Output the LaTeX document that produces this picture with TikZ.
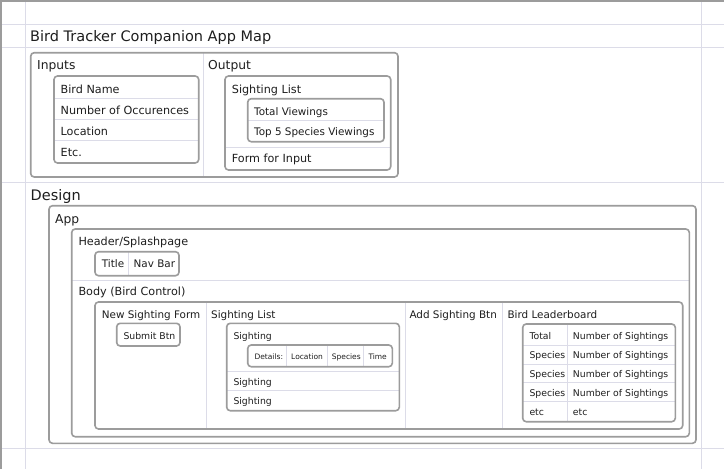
\documentclass[tikz,border=0pt]{standalone}
\usepackage{fontspec}
\setmainfont{DejaVu Sans}
\definecolor{grid}{HTML}{DCDCE8}
\definecolor{boxc}{HTML}{9C9C9C}
\definecolor{txt}{HTML}{1E1E1E}
\tikzset{
  gridline/.style={draw=grid, line width=1pt},
  border/.style={draw=boxc, line width=1.5pt},
  box/.style={draw=boxc, line width=1.6pt, rounded corners=3.5pt},
  divider/.style={draw=grid, line width=0.9pt},
  lbl/.style={anchor=base west, inner sep=0pt, text=txt},
  tA/.style={lbl, font=\fontsize{14.5}{16}\selectfont},
  tB/.style={lbl, font=\fontsize{12.3}{14}\selectfont},
  tC/.style={lbl, font=\fontsize{11.2}{13}\selectfont},
  tD/.style={lbl, font=\fontsize{10.4}{12}\selectfont},
  tE/.style={lbl, font=\fontsize{9.3}{11}\selectfont},
  tF/.style={lbl, font=\fontsize{7.5}{9}\selectfont},
}
\begin{document}
\begin{tikzpicture}[x=1pt,y=-1pt]
\useasboundingbox (0,0) rectangle (724,469);
\fill[white] (0,0) rectangle (724,469);
% page grid
\draw[gridline] (0,24) -- (724,24);
\draw[gridline] (0,47) -- (724,47);
\draw[gridline] (0,182.5) -- (724,182.5);
\draw[gridline] (0,448) -- (724,448);
\draw[gridline] (25,0) -- (25,469);
\draw[gridline] (701,0) -- (701,469);
\draw[border] (0.75,0) -- (0.75,469);
\draw[border] (0,0.75) -- (724,0.75);

% ---------- Map ----------
\node[tA] (title) at (30,41) {Bird Tracker Companion App Map};
\draw[divider] (203,52.7) -- (203,177);
\draw[box] (30.7,52.7) rectangle (398,177);
\node[tB] (inputs) at (37,69.3) {Inputs};
\node[tB] (output) at (208,69.3) {Output};
% inputs list
\draw[divider] (54,98.3) -- (198.7,98.3);
\draw[divider] (54,119.3) -- (198.7,119.3);
\draw[divider] (54,140) -- (198.7,140);
\draw[box] (54,76) rectangle (198.7,163);
\node[tC] (in1) at (60.5,93.3) {Bird Name};
\node[tC] (in2) at (60.5,114.3) {Number of Occurences};
\node[tC] (in3) at (60.5,135.2) {Location};
\node[tC] (in4) at (60.5,156.5) {Etc.};
% output list
\draw[divider] (225,147.3) -- (390.7,147.3);
\draw[box] (225,76) rectangle (390.7,170);
\node[tC] (osl) at (231.7,93.3) {Sighting List};
\draw[divider] (247.7,120.3) -- (384,120.3);
\draw[box] (247.7,98.7) rectangle (384,141.7);
\node[tD] (otv) at (254,115) {Total Viewings};
\node[tD] (otop) at (254,135.5) {Top 5 Species Viewings};
\node[tC] (ofi) at (231.7,162.7) {Form for Input};

% ---------- Design ----------
\node[tA] (design) at (30.5,200.5) {Design};
\draw[box] (49,205.7) rectangle (696,443.3);
\node[tB] (app) at (55,223.3) {App};
\draw[divider] (71.7,280) -- (689.3,280);
\draw[box] (71.7,229) rectangle (689.3,436.7);
\node[tC] (header) at (78.3,245.7) {Header/Splashpage};
\draw[divider] (128.3,251.7) -- (128.3,275.7);
\draw[box] (95,251.7) rectangle (179,275.7);
\node[tD] (ttl) at (101.7,267.3) {Title};
\node[tD] (nav) at (133.5,267.3) {Nav Bar};
\node[tC] (body) at (78.3,295.7) {Body (Bird Control)};
% body box
\draw[divider] (206.7,302) -- (206.7,429);
\draw[divider] (405,302) -- (405,429);
\draw[divider] (502.7,302) -- (502.7,429);
\draw[box] (95,302) rectangle (682.7,429);
\node[tD] (nsf) at (101.7,318.3) {New Sighting Form};
\draw[box] (116.7,323.3) rectangle (180,346);
\node[tE] (submit) at (123.3,339) {Submit Btn};
\node[tD] (bsl) at (211,318.3) {Sighting List};
\node[tD] (addbtn) at (409.3,318.3) {Add Sighting Btn};
\node[tD] (board) at (507.3,318.3) {Bird Leaderboard};
% sighting list
\draw[divider] (226.7,371.7) -- (399.3,371.7);
\draw[divider] (226.7,390) -- (399.3,390);
\draw[box] (226.7,323.3) rectangle (399.3,410.7);
\node[tE] (s1) at (233.3,339.3) {Sighting};
\draw[divider] (286.7,345) -- (286.7,366.7);
\draw[divider] (327.3,345) -- (327.3,366.7);
\draw[divider] (363.3,345) -- (363.3,366.7);
\draw[box] (247.7,345) rectangle (392.3,366.7);
\node[tF] (d0) at (254.3,359) {Details:};
\node[tF] (d1) at (291,359) {Location};
\node[tF] (d2) at (331.7,359) {Species};
\node[tF] (d3) at (368.3,359) {Time};
\node[tE] (s2) at (233.3,385) {Sighting};
\node[tE] (s3) at (233.3,404.3) {Sighting};
% leaderboard
\draw[divider] (567.3,324) -- (567.3,421.7);
\draw[divider] (522.7,345) -- (675.3,345);
\draw[divider] (522.7,364) -- (675.3,364);
\draw[divider] (522.7,382.7) -- (675.3,382.7);
\draw[divider] (522.7,401.7) -- (675.3,401.7);
\draw[box] (522.7,324) rectangle (675.3,421.7);
\node[tE] (l1a) at (529.3,339) {Total};
\node[tE] (l1b) at (572.7,339) {Number of Sightings};
\node[tE] (l2a) at (529.3,358.3) {Species};
\node[tE] (l2b) at (572.7,358.3) {Number of Sightings};
\node[tE] (l3a) at (529.3,377.3) {Species};
\node[tE] (l3b) at (572.7,377.3) {Number of Sightings};
\node[tE] (l4a) at (529.3,396.3) {Species};
\node[tE] (l4b) at (572.7,396.3) {Number of Sightings};
\node[tE] (l5a) at (529.3,415.5) {etc};
\node[tE] (l5b) at (572.7,415.5) {etc};
\end{tikzpicture}
\end{document}
